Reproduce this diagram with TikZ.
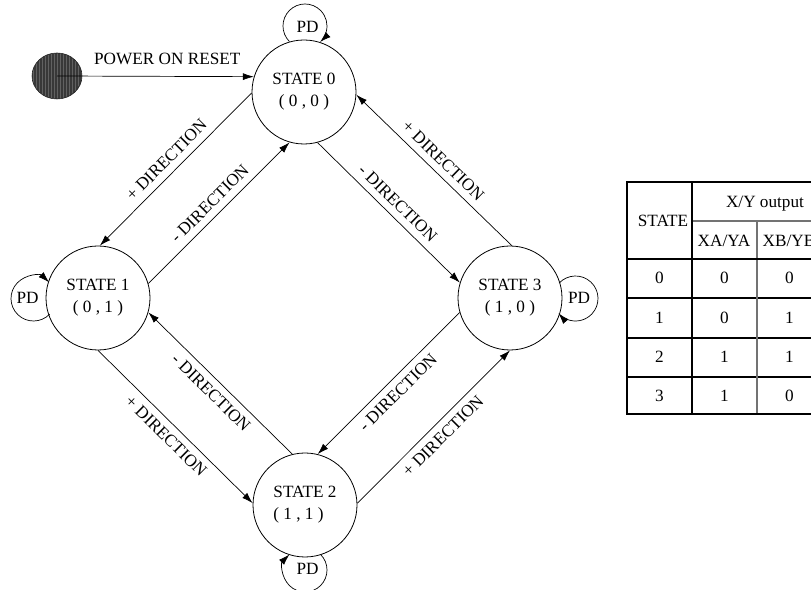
\documentclass[tikz,border=0pt]{standalone}
\usepackage{fontspec}
\setmainfont{Liberation Serif}
\usetikzlibrary{arrows.meta,shapes.geometric}
\tikzset{
  txt/.style={font=\fontsize{17.2}{22}\selectfont},
  state/.style={circle,draw,line width=0.8pt,minimum size=104pt,inner sep=0pt,align=center,txt},
  arr/.style={line width=0.7pt,-{Latex[length=11pt,width=7pt]}},
  lbl/.style={sloped,midway,txt,inner ysep=7pt,inner xsep=0pt},
  pdtxt/.style={txt,inner sep=0pt},
  cellt/.style={txt,anchor=base,inner sep=0pt},
  thick border/.style={line width=1.8pt},
  thin row/.style={line width=1.2pt},
  gray rule/.style={line width=1.2pt,draw=black!55}
}
\begin{document}
\begin{tikzpicture}[x=1pt,y=1pt]
\useasboundingbox (0,0) rectangle (811,589);

% start dot
\node[ellipse,draw=black!85,fill=black!78,minimum width=50pt,minimum height=46pt,inner sep=0pt,line width=0.6pt] (init) at (57,513) {};
\begin{scope}
  \clip (57,513) ellipse [x radius=24.5, y radius=22.5];
  \foreach \i in {0,...,16} \draw[black!62,line width=0.8pt] (33+3*\i,490) -- ++(0,46);
\end{scope}

% states
\node[state] (s0) at (304,497) {STATE 0\\( 0 , 0 )};
\node[state] (s1) at (98,291) {STATE 1\\( 0 , 1 )};
\node[state,align=left] (s2) at (305,84) {STATE 2\\( 1 , 1 )};
\node[state] (s3) at (510,291) {STATE 3\\( 1 , 0 )};

% power on reset
\draw[arr] (init.center) -- node[txt,pos=0.56,anchor=base,yshift=12pt,inner sep=0pt] (por) {POWER ON RESET} (s0.163);

% transitions
\draw[arr] (s0.181) -- node[lbl,above] (l1) {+ DIRECTION} (s1.88);
\draw[arr] (s1.16) -- node[lbl,above] (l2) {- DIRECTION} (s0.254);
\draw[arr] (s0.285) -- node[lbl,above] (l3) {- DIRECTION} (s3.163);
\draw[arr] (s3.88) -- node[lbl,above] (l4) {+ DIRECTION} (s0.357);
\draw[arr] (s1.270) -- node[lbl,below] (l5) {+ DIRECTION} (s2.178);
\draw[arr] (s2.104) -- node[lbl,below] (l6) {- DIRECTION} (s1.344);
\draw[arr] (s3.196) -- node[lbl,below] (l7) {- DIRECTION} (s2.76);
\draw[arr] (s2.2) -- node[lbl,below] (l8) {+ DIRECTION} (s3.270);

% PD self loops
\coordinate (c0) at (305,563);
\coordinate (c1) at (33.5,290.5);
\coordinate (c2) at (305,19);
\coordinate (c3) at (575.5,290.5);
\node[pdtxt] (pd0) at (307.5,562) {PD};
\node[pdtxt] (pd1) at (27.5,291) {PD};
\node[pdtxt] (pd2) at (307.5,20) {PD};
\node[pdtxt] (pd3) at (579,291) {PD};
\draw[arr] ([shift={(225:22)}]c0) arc[start angle=225,end angle=-47,radius=22];
\draw[arr] ([shift={(-44:22.5)}]c1) arc[start angle=-44,end angle=-314,radius=22.5];
\draw[arr] ([shift={(45:22)}]c2) arc[start angle=45,end angle=-225,radius=22];
\draw[arr] ([shift={(137:22.5)}]c3) arc[start angle=137,end angle=-139,radius=22.5];

% table
\begin{scope}
  \clip (0,0) rectangle (811,589);
  \draw[thin row] (627,291) -- (822,291);
  \draw[thin row] (627,251) -- (822,251);
  \draw[thin row] (627,212) -- (822,212);
  \draw[gray rule] (692,368) -- (822,368);
  \draw[gray rule] (757,175) -- (757,368);
  \draw[thick border] (627,330) -- (822,330);
  \draw[thick border] (692,175) -- (692,407);
  \draw[thick border] (627,175) rectangle (822,407);
  \node[cellt] (tstate) at (663,362) {STATE};
  \node[cellt] (txy) at (765,381) {X/Y output};
  \node[cellt] (txa) at (724,342) {XA/YA};
  \node[cellt] (txb) at (789,342) {XB/YB};
  \node[cellt] (r0a) at (659.5,305) {0};
  \node[cellt] (r0b) at (724.5,305) {0};
  \node[cellt] (r0c) at (789.5,305) {0};
  \node[cellt] (r1a) at (659.5,265.5) {1};
  \node[cellt] (r1b) at (724.5,265.5) {0};
  \node[cellt] (r1c) at (789.5,265.5) {1};
  \node[cellt] (r2a) at (659.5,226) {2};
  \node[cellt] (r2b) at (724.5,226) {1};
  \node[cellt] (r2c) at (789.5,226) {1};
  \node[cellt] (r3a) at (659.5,187) {3};
  \node[cellt] (r3b) at (724.5,187) {1};
  \node[cellt] (r3c) at (789.5,187) {0};
\end{scope}
\end{tikzpicture}
\end{document}
